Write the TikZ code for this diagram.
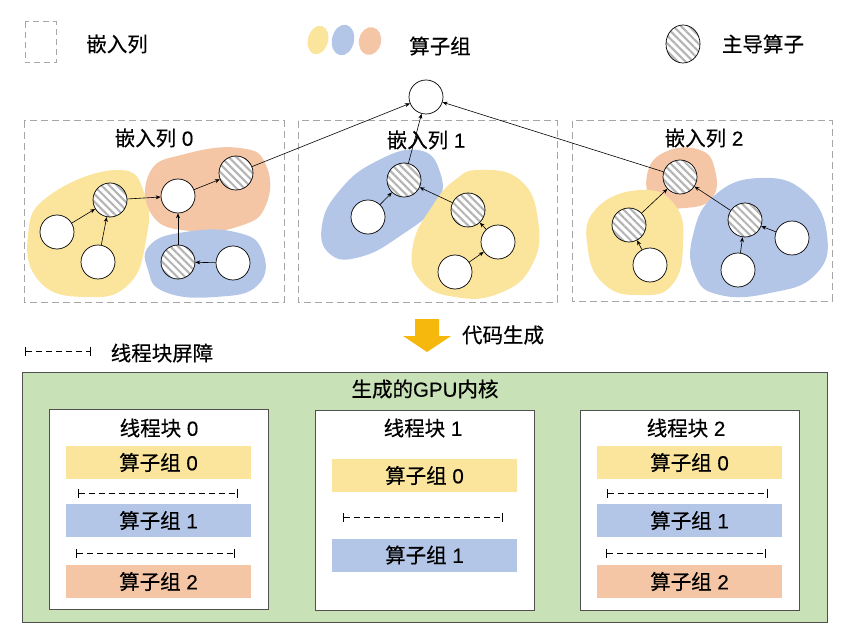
\documentclass[tikz,border=0pt]{standalone}
\usepackage{fontspec}
\setmainfont{Liberation Sans}[FakeBold=0.25]
\newfontfamily\cjk{Noto Sans CJK SC}[FakeBold=0.4]
\usetikzlibrary{arrows.meta,patterns.meta,shapes.geometric}
\definecolor{cyel}{HTML}{FBE49B}
\definecolor{cblue}{HTML}{B4C6E7}
\definecolor{corange}{HTML}{F5C6A6}
\definecolor{cgreen}{HTML}{C9E1B7}
\definecolor{cgold}{HTML}{F6B80C}
\definecolor{cdash}{HTML}{A6A6A6}
\definecolor{cborder}{HTML}{505050}
\definecolor{chatch}{HTML}{B4B4B4}
\begin{document}
\begin{tikzpicture}[x=1pt,y=-1pt,
  every node/.style={font=\fontsize{20.5}{22}\selectfont},
  plain/.style={circle, draw, line width=0.7pt, fill=white, minimum size=34pt, inner sep=0pt},
  lead/.style={circle, draw, line width=0.7pt, minimum size=34pt, inner sep=0pt,
    preaction={fill=white}, pattern={Lines[angle=-45,distance=5.5pt,line width=2.1pt]}, pattern color=chatch},
  edge/.style={-{Stealth[length=5pt,width=4pt]}, line width=0.6pt},
  embbox/.style={draw=cdash, line width=1pt, dash pattern=on 7pt off 4pt},
  blk/.style={draw=cborder, line width=0.7pt, fill=white, minimum width=219pt, minimum height=200pt, inner sep=0pt},
  bar/.style={minimum width=185pt, minimum height=33pt, inner sep=0pt},
  barrier/.style={{Bar[width=9pt,line width=0.8pt]}-{Bar[width=9pt,line width=0.8pt]}, line width=0.8pt, dash pattern=on 6pt off 4pt},
  lbl/.style={inner sep=1pt}
]
\useasboundingbox (0,0) rectangle (845,644);

% ---------- legend ----------
\draw[embbox, dash pattern=on 6pt off 4pt] (25,22) rectangle (56,63);
\node[lbl] (lg1) at (117,44) {\cjk 嵌入列};
\fill[cyel] (318,40) ellipse [x radius=10pt, y radius=14.5pt, rotate=-15];
\fill[cblue] (343,40) ellipse [x radius=11pt, y radius=15.5pt, rotate=-12];
\fill[corange] (370,41) ellipse [x radius=11pt, y radius=14pt, rotate=-12];
\node[lbl] (lg2) at (440,46) {\cjk 算子组};
\node[lead, ellipse, minimum width=34pt, minimum height=38pt] (lgl) at (683,44) {};
\node[lbl] (lg3) at (763,44) {\cjk 主导算子};

% ---------- embedding boxes ----------
\draw[embbox] (24,121) rectangle (284,302);
\draw[embbox] (298,121) rectangle (557,302);
\draw[embbox] (572,121) rectangle (832,301);

% ---------- blobs ----------
% column 0
\fill[cyel] plot[smooth cycle, tension=0.8] coordinates {(118,170) (145,195) (146,240) (128,285) (85,297) (40,282) (28,235) (50,195)};
\fill[corange] plot[smooth cycle, tension=0.8] coordinates {(150,172) (185,154) (240,148) (266,165) (266,205) (240,226) (190,231) (152,215)};
\fill[cblue] plot[smooth cycle, tension=0.8] coordinates {(150,245) (185,232) (235,232) (262,250) (258,285) (215,297) (165,292) (148,270)};
% column 1
\fill[cblue] plot[smooth cycle, tension=0.8] coordinates {(418,150) (440,172) (436,205) (400,236) (360,257) (330,254) (322,225) (340,190) (375,162)};
\fill[cyel] plot[smooth cycle, tension=0.8] coordinates {(480,170) (520,180) (538,220) (532,265) (500,293) (455,297) (420,280) (413,245) (433,205) (455,180)};
% column 2
\fill[corange] plot[smooth cycle, tension=0.8] coordinates {(665,152) (700,150) (715,170) (712,198) (685,208) (655,203) (647,175)};
\fill[cyel] plot[smooth cycle, tension=0.8] coordinates {(640,190) (675,205) (683,245) (672,285) (640,295) (605,285) (588,250) (595,210)};
\fill[cblue] plot[smooth cycle, tension=0.8] coordinates {(760,178) (805,192) (827,235) (815,275) (770,293) (720,295) (695,275) (693,235) (715,195)};

% ---------- titles ----------
\node[lbl] (t0) at (154,138) {{\cjk 嵌入列} 0};
\node[lbl] (t1) at (426,140) {{\cjk 嵌入列} 1};
\node[lbl] (t2) at (704,138) {{\cjk 嵌入列} 2};

% ---------- graph nodes ----------
\node[plain] (top) at (426,97) {};
% column 0
\node[lead]  (a) at (110,200) {};
\node[plain] (b1) at (57,232) {};
\node[plain] (b2) at (98,262) {};
\node[plain] (c) at (178,196) {};
\node[lead]  (d) at (236,173) {};
\node[lead]  (e) at (178,262) {};
\node[plain] (f) at (233,263) {};
% column 1
\node[lead]  (g) at (404,180) {};
\node[plain] (h) at (368,217) {};
\node[lead]  (i) at (468,210) {};
\node[plain] (j) at (498,242) {};
\node[plain] (k) at (455,272) {};
% column 2
\node[lead]  (l) at (680,177) {};
\node[lead]  (m) at (629,225) {};
\node[plain] (n) at (650,265) {};
\node[lead]  (o) at (745,220) {};
\node[plain] (p) at (792,238) {};
\node[plain] (q) at (738,270) {};

% ---------- edges ----------
\draw[edge] (b1) -- (a);
\draw[edge] (b2) -- (a);
\draw[edge] (a) -- (c);
\draw[edge] (e) -- (c);
\draw[edge] (f) -- (e);
\draw[edge] (c) -- (d);
\draw[edge] (d) -- (top);
\draw[edge] (h) -- (g);
\draw[edge] (i) -- (g);
\draw[edge] (j) -- (i);
\draw[edge] (k) -- (j);
\draw[edge] (g) -- (top);
\draw[edge] (n) -- (m);
\draw[edge] (m) -- (l);
\draw[edge] (o) -- (l);
\draw[edge] (p) -- (o);
\draw[edge] (q) -- (o);
\draw[edge] (l) -- (top);

% ---------- code generation arrow ----------
\fill[cgold] (415,319) -- (439,319) -- (439,336) -- (451,336) -- (427,352) -- (403,336) -- (415,336) -- cycle;
\node[lbl] (cg) at (503,335) {\cjk 代码生成};

% ---------- barrier legend ----------
\coordinate (lbA) at (25,351);
\coordinate (lbB) at (91,351);
\draw[barrier] (lbA) -- (lbB);
\node[lbl] (lg4) at (162,353) {\cjk 线程块屏障};

% ---------- GPU kernel ----------
\node[draw=cborder, line width=0.8pt, fill=cgreen, minimum width=805pt, minimum height=250pt, inner sep=0pt] (kern) at (424.5,497) {};
\node[lbl] (kt) at (425,389) {{\cjk 生成的}GPU{\cjk 内核}};

\node[blk] (blk0) at (158.5,509.5) {};
\node[blk] (blk1) at (425,510) {};
\node[blk] (blk2) at (689.5,510) {};

\node[lbl] (bt0) at (159,428) {{\cjk 线程块} 0};
\node[lbl] (bt1) at (423,428) {{\cjk 线程块} 1};
\node[lbl] (bt2) at (686,428) {{\cjk 线程块} 2};

% block 0
\node[bar, fill=cyel] (b0g0) at (158.5,462.5) {{\cjk 算子组} 0};
\node[bar, fill=cblue] (b0g1) at (158.5,520.5) {{\cjk 算子组} 1};
\node[bar, fill=corange] (b0g2) at (158.5,581.5) {{\cjk 算子组} 2};
\coordinate (b0s1a) at (78,493); \coordinate (b0s1b) at (238,493);
\coordinate (b0s2a) at (76,553); \coordinate (b0s2b) at (235,553);
\draw[barrier] (b0s1a) -- (b0s1b);
\draw[barrier] (b0s2a) -- (b0s2b);

% block 1
\node[bar, fill=cyel] (b1g0) at (424.5,475.5) {{\cjk 算子组} 0};
\node[bar, fill=cblue] (b1g1) at (424.5,555) {{\cjk 算子组} 1};
\coordinate (b1s1a) at (343,517); \coordinate (b1s1b) at (503,517);
\draw[barrier] (b1s1a) -- (b1s1b);

% block 2
\node[bar, fill=cyel] (b2g0) at (689.5,462.5) {{\cjk 算子组} 0};
\node[bar, fill=cblue] (b2g1) at (689.5,520.5) {{\cjk 算子组} 1};
\node[bar, fill=corange] (b2g2) at (689.5,581.5) {{\cjk 算子组} 2};
\coordinate (b2s1a) at (607,493); \coordinate (b2s1b) at (768,493);
\coordinate (b2s2a) at (606,553); \coordinate (b2s2b) at (766,553);
\draw[barrier] (b2s1a) -- (b2s1b);
\draw[barrier] (b2s2a) -- (b2s2b);
\end{tikzpicture}
\end{document}
